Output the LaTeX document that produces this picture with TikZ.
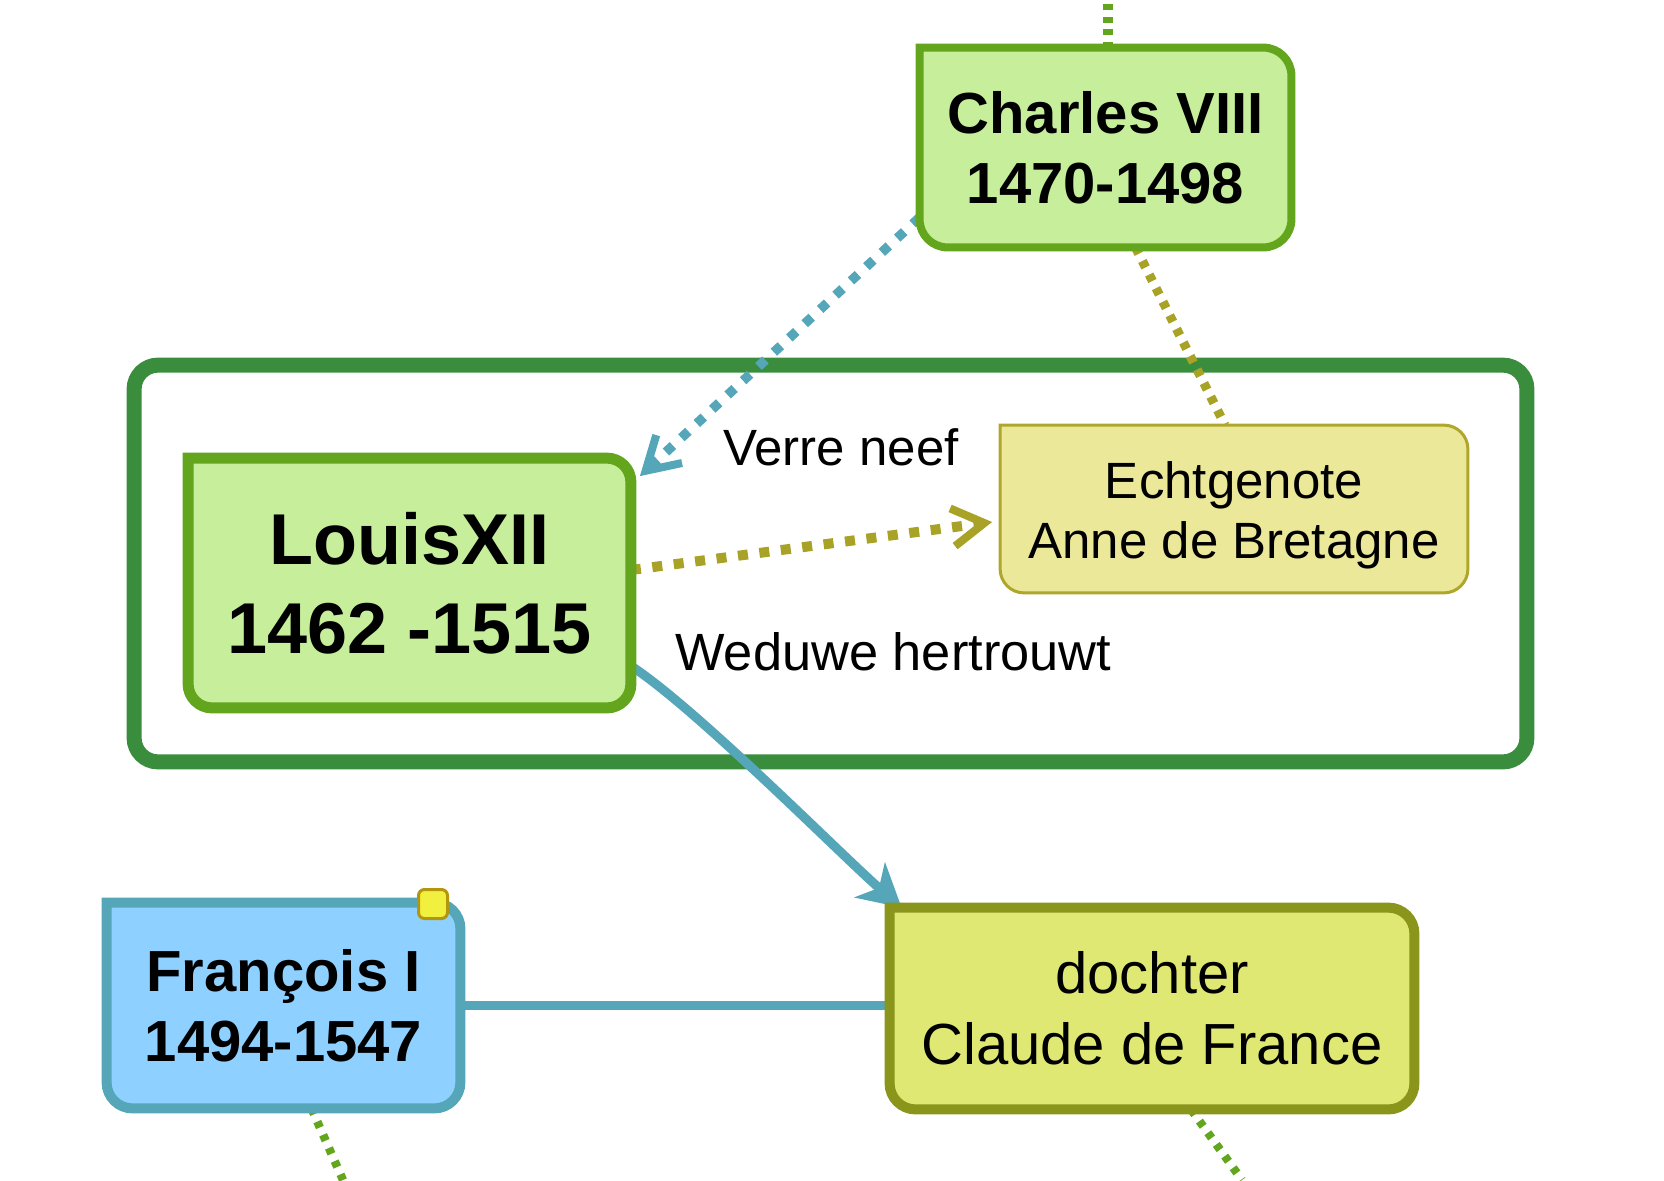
\documentclass[tikz,border=0pt]{standalone}
\usepackage{fontspec}
\setmainfont{Liberation Sans}
\usetikzlibrary{arrows.meta}
\pgfdeclarelayer{bg}
\pgfdeclarelayer{mid}
\pgfsetlayers{bg,mid,main}

\definecolor{kgreen}{HTML}{63A61E}
\definecolor{kgreenfill}{HTML}{C6EE9B}
\definecolor{grpgreen}{HTML}{3A8D3D}
\definecolor{kblue}{HTML}{55A6B9}
\definecolor{kbluefill}{HTML}{8ED0FF}
\definecolor{kolive}{HTML}{A8A326}
\definecolor{echtfill}{HTML}{ECE89A}
\definecolor{echtline}{HTML}{AEA72B}
\definecolor{dochfill}{HTML}{DFE873}
\definecolor{dochline}{HTML}{8A951B}
\definecolor{sqfill}{HTML}{F2F03E}
\definecolor{sqline}{HTML}{B3960E}

\newcommand\fntKing{\fontsize{29pt}{35pt}\selectfont\bfseries}
\newcommand\fntLouis{\fontsize{36pt}{44.5pt}\selectfont\bfseries}
\newcommand\fntEcht{\fontsize{25.5pt}{30pt}\selectfont}
\newcommand\fntDoch{\fontsize{29pt}{35.5pt}\selectfont}
\newcommand\fntLbl{\fontsize{25.5pt}{30pt}\selectfont}
\newcommand\fntLblB{\fontsize{26.2pt}{30pt}\selectfont}

% box with sharp top-left corner and rounded other corners
\newcommand\tlround[3]{%
  \path[#3] (#1.north west) -- ([xshift=-#2]#1.north east)
    arc[start angle=90,end angle=0,radius=#2] -- ([yshift=#2]#1.south east)
    arc[start angle=0,end angle=-90,radius=#2] -- ([xshift=#2]#1.south west)
    arc[start angle=270,end angle=180,radius=#2] -- cycle;}

\tikzset{
  boxnode/.style={rectangle, inner sep=0pt, align=center, text=black},
  lbl/.style={inner sep=0pt, font=\fntLbl, text=black},
  gdash/.style={draw=kgreen, line width=5pt, dash pattern=on 3pt off 3.2pt},
  gdashthin/.style={draw=kgreen, line width=4.2pt, dash pattern=on 3.2pt off 4pt},
  odash/.style={draw=kolive, line width=4.6pt, dash pattern=on 3.6pt off 4pt},
  odots/.style={draw=kolive, line width=5pt, dash pattern=on 5pt off 5.8pt},
  bdots/.style={draw=kblue, line width=4.75pt, dash pattern=on 4.75pt off 5.75pt},
  bsolid/.style={draw=kblue, line width=4.6pt},
  vtip/.style={-{Straight Barb[length=16pt,width=19pt,line width=4pt]}},
  stip/.style={-{Stealth[length=21pt,width=23pt,inset=6pt]}},
}

\begin{document}
\begin{tikzpicture}[x=0.5pt,y=0.5pt]
\useasboundingbox (0,0) rectangle (1664,-1180);
\coordinate (top) at (0,0);
\coordinate (fend) at (343,-1180);
\coordinate (dend) at (1242,-1180);

% nodes (text)
\node[boxnode, minimum width=185.5pt, minimum height=99.5pt, font=\fntKing] (C) at (1105.5,-147.5) {Charles VIII\\1470-1498};
\node[boxnode, minimum width=221pt, minimum height=124.5pt, font=\fntLouis] (L) at (409.5,-583) {LouisXII\\1462 -1515};
\node[inner sep=0pt, minimum width=233.5pt, minimum height=83.5pt] (E) at (1234,-509) {};
\node[boxnode, font=\fntEcht] (Et) at ([yshift=-3.3pt]E.center) {Echtgenote\\Anne de Bretagne};
\node[boxnode, minimum width=262pt, minimum height=100.5pt, font=\fntDoch] (D) at (1152,-1008.5) {dochter\\Claude de France};
\node[boxnode, minimum width=176.5pt, minimum height=102.5pt, font=\fntKing] (F) at (283.5,-1005.5) {François I\\1494-1547};
\node[inner sep=0pt, minimum width=696pt, minimum height=198pt] (G) at (830.5,-563.5) {};
\node[draw=sqline, fill=sqfill, line width=1.5pt, rounded corners=3pt, minimum size=14.5pt, inner sep=0pt] (sq) at (433,-904) {};

\node[lbl, anchor=base west] (vn) at (723,-465) {Verre neef};
\node[lbl, font=\fntLblB, anchor=base west] (wh) at (675,-670) {Weduwe hertrouwt};

\begin{pgfonlayer}{bg}
  \draw[grpgreen, line width=7.5pt, rounded corners=12pt] (G.north west) rectangle (G.south east);
\end{pgfonlayer}

\begin{pgfonlayer}{mid}
  % connectors
  \draw[gdash] ([xshift=1.2pt]C.north) -- ([xshift=1.2pt]C.north |- top);
  \draw[bdots, vtip] ([yshift=15pt]C.south west) -- ([xshift=4.5pt,yshift=-9pt]L.north east);
  \draw[odots, vtip] ([yshift=6.5pt]L.east) -- ([xshift=-4pt,yshift=-6.5pt]E.west);
  \draw[odash] ([xshift=15pt]C.south) -- ([xshift=-4.5pt]E.north);
  \draw[bsolid, stip] ([yshift=21pt]L.south east) to[out=-33, in=139, looseness=0.55] ([xshift=6pt]D.north west);
  \draw[bsolid] (F.east) -- (F.east -| D.west);
  \draw[gdashthin] ([xshift=14pt]F.south) -- (fend);
  \draw[gdashthin] ([xshift=19.5pt]D.south) -- (dend);
  % box shapes
  \tlround{C}{14pt}{draw=kgreen, fill=kgreenfill, line width=4pt}
  \tlround{L}{12pt}{draw=kgreen, fill=kgreenfill, line width=5.5pt}
  \tlround{E}{12pt}{draw=echtline, fill=echtfill, line width=1.5pt}
  \tlround{D}{13pt}{draw=dochline, fill=dochfill, line width=5pt}
  \tlround{F}{13pt}{draw=kblue, fill=kbluefill, line width=5pt}
\end{pgfonlayer}
\end{tikzpicture}
\end{document}
